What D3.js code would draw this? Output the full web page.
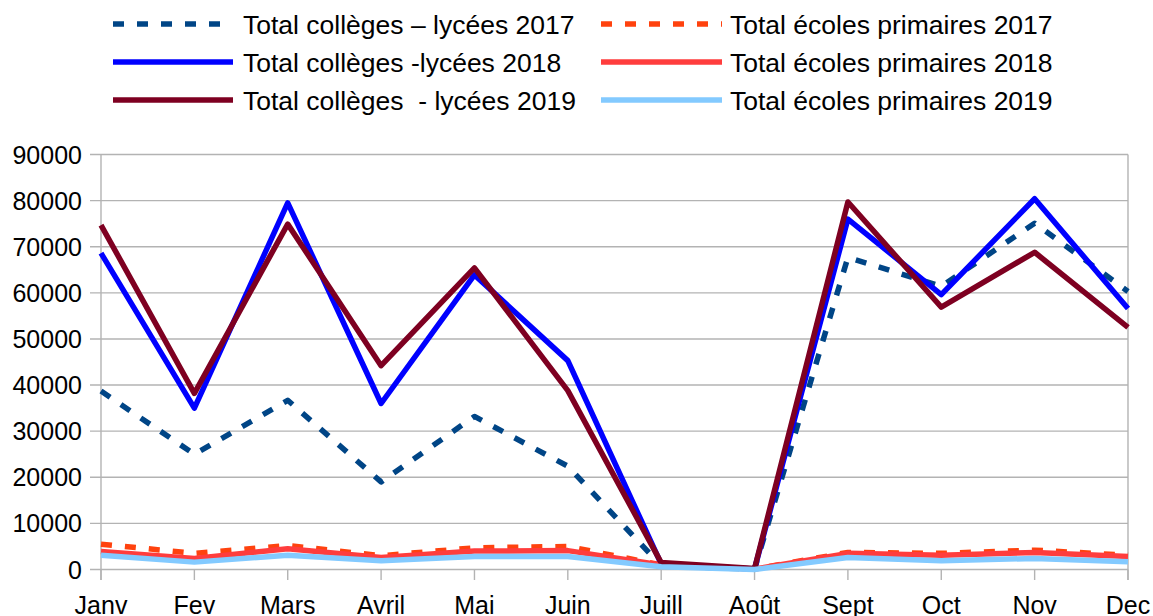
<!DOCTYPE html>
<html><head><meta charset="utf-8">
<script src="https://cdn.jsdelivr.net/npm/d3@7"></script>
<style>
html,body{margin:0;padding:0;background:#fff;}
svg{display:block;font-family:"Liberation Sans",Arial,sans-serif;}
</style></head>
<body>
<svg id="chart" width="1153" height="616"></svg>
<script>
const months = ["Janv","Fev","Mars","Avril","Mai","Juin","Juill","Août","Sept","Oct","Nov","Dec"];
const yTicks = [0,10000,20000,30000,40000,50000,60000,70000,80000,90000];

const colleges2017 = [38700,25000,36700,19000,33200,22400,800,100,67700,61400,75100,60300];
const colleges2018 = [68600,35000,79500,36000,63900,45300,1200,100,76000,59600,80400,56600];
const colleges2019 = [74700,38200,74900,44200,65400,38800,1500,200,79700,56900,68800,52500];
const primaires2017 = [5500,3500,5200,3000,4700,5000,1000,100,3700,3500,4200,3100];
const primaires2018 = [3900,2400,4500,2600,4000,4100,1000,100,3500,3100,3700,2800];
const primaires2019 = [3100,1600,3100,1900,2800,2800,600,0,2600,1900,2400,1700];

const seriesNames = ["Total collèges – lycées 2017","Total écoles primaires 2017",
  "Total collèges -lycées 2018","Total écoles primaires 2018",
  "Total collèges  - lycées 2019","Total écoles primaires 2019"];
const seriesValues = [colleges2017,primaires2017,colleges2018,primaires2018,colleges2019,primaires2019];
const seriesColors = ["#004586","#ff420e","#0000ff","#ff3d3d","#7e0021","#83caff"];
const seriesDashed = [true,true,false,false,false,false];

const svg = d3.select("#chart");
const x = d3.scalePoint().domain(months).range([101,1128]);
const y = d3.scaleLinear().domain([0,90000]).range([569.5,154.5]);

// gridlines
svg.append("g").selectAll("line").data(yTicks).join("line")
  .attr("x1",90).attr("x2",1128)
  .attr("y1",d=>y(d)).attr("y2",d=>y(d))
  .attr("stroke","#b3b3b3").attr("stroke-width",1.4);

// vertical axis line and right border
svg.append("line").attr("x1",101).attr("x2",101).attr("y1",y(90000)).attr("y2",580)
  .attr("stroke","#b3b3b3").attr("stroke-width",1.4);
svg.append("line").attr("x1",1128).attr("x2",1128).attr("y1",y(90000)).attr("y2",580)
  .attr("stroke","#b3b3b3").attr("stroke-width",1.4);

// x ticks
svg.append("g").selectAll("line").data(months).join("line")
  .attr("x1",d=>x(d)).attr("x2",d=>x(d)).attr("y1",y(0)).attr("y2",580)
  .attr("stroke","#b3b3b3").attr("stroke-width",1.4);

// y labels
svg.append("g").selectAll("text").data(yTicks).join("text")
  .attr("x",82).attr("y",d=>y(d)+9)
  .attr("text-anchor","end").attr("font-size",25).attr("fill","#000")
  .text(d=>d);

// x labels
svg.append("g").selectAll("text").data(months).join("text")
  .attr("x",d=>x(d)).attr("y",614)
  .attr("text-anchor","middle").attr("font-size",25).attr("fill","#000")
  .text(d=>d);

// lines
const line = d3.line().x((d,i)=>x(months[i])).y(d=>y(d));
seriesValues.forEach((vals,k)=>{
  svg.append("path").datum(vals)
    .attr("d",line)
    .attr("fill","none")
    .attr("stroke",seriesColors[k])
    .attr("stroke-width",5.5)
    .attr("stroke-linejoin","round")
    .attr("stroke-dasharray",seriesDashed[k]?"11,13":null);
});

// legend
const legCols = [{lx1:113,lx2:233,tx:243},{lx1:601,lx2:722,tx:730}];
const legRows = [24,62,100];
seriesNames.forEach((name,k)=>{
  const c = legCols[k%2], r = legRows[Math.floor(k/2)];
  svg.append("line").attr("x1",c.lx1).attr("x2",c.lx2).attr("y1",r).attr("y2",r)
    .attr("stroke",seriesColors[k]).attr("stroke-width",5.5)
    .attr("stroke-dasharray",seriesDashed[k]?"11,13":null);
  svg.append("text").attr("x",c.tx).attr("y",r+10).attr("font-size",26.5).attr("fill","#000")
    .style("white-space","pre").attr("xml:space","preserve").text(name);
});
</script>
</body></html>
